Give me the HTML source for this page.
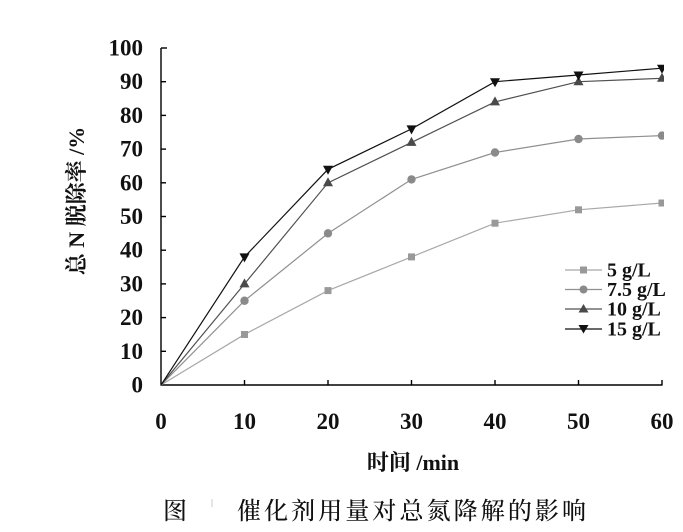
<!DOCTYPE html>
<html><head><meta charset="utf-8"><style>
html,body{margin:0;padding:0;background:#fff;}
svg{display:block;}
</style></head><body>
<svg width="683" height="532" viewBox="0 0 683 532" xmlns="http://www.w3.org/2000/svg">
<rect width="683" height="532" fill="#fff"/>
<defs><clipPath id="c"><rect x="0" y="0" width="664" height="532"/></clipPath></defs>
<!-- axes -->
<g stroke="#000" stroke-width="1.4" fill="none">
<line x1="161" y1="48" x2="161" y2="385.5"/>
<line x1="160.5" y1="385" x2="662.5" y2="385"/>
<line x1="161" y1="48" x2="167" y2="48"/>
<line x1="161" y1="81.7" x2="166" y2="81.7"/>
<line x1="161" y1="115.4" x2="166" y2="115.4"/>
<line x1="161" y1="149.1" x2="166" y2="149.1"/>
<line x1="161" y1="182.8" x2="166" y2="182.8"/>
<line x1="161" y1="216.5" x2="166" y2="216.5"/>
<line x1="161" y1="250.2" x2="166" y2="250.2"/>
<line x1="161" y1="283.9" x2="166" y2="283.9"/>
<line x1="161" y1="317.6" x2="166" y2="317.6"/>
<line x1="161" y1="351.3" x2="166" y2="351.3"/>
<line x1="244.5" y1="385" x2="244.5" y2="380"/>
<line x1="328" y1="385" x2="328" y2="380"/>
<line x1="411.5" y1="385" x2="411.5" y2="380"/>
<line x1="495" y1="385" x2="495" y2="380"/>
<line x1="578.5" y1="385" x2="578.5" y2="380"/>
<line x1="662" y1="385" x2="662" y2="380"/>
</g>
<!-- y tick labels -->
<g font-family="Liberation Serif, serif" font-weight="bold" font-size="23" fill="#111" text-anchor="end">
<text x="143" y="55.5">100</text>
<text x="143" y="89.2">90</text>
<text x="143" y="122.9">80</text>
<text x="143" y="156.6">70</text>
<text x="143" y="190.3">60</text>
<text x="143" y="224">50</text>
<text x="143" y="257.7">40</text>
<text x="143" y="291.4">30</text>
<text x="143" y="325.1">20</text>
<text x="143" y="358.8">10</text>
<text x="143" y="392.5">0</text>
</g>
<!-- x tick labels -->
<g font-family="Liberation Serif, serif" font-weight="bold" font-size="23" fill="#111" text-anchor="middle">
<text x="161" y="429">0</text>
<text x="244.5" y="429">10</text>
<text x="328" y="429">20</text>
<text x="411.5" y="429">30</text>
<text x="495" y="429">40</text>
<text x="578.5" y="429">50</text>
<text x="662" y="429">60</text>
</g>
<!-- axis titles -->
<text x="413" y="470" text-anchor="middle" font-family="Liberation Serif, 'Noto Serif CJK SC', serif" font-weight="bold" font-size="22" fill="#111">时间 /min</text>
<text transform="translate(84,201) rotate(-90)" text-anchor="middle" font-family="Liberation Serif, 'Noto Serif CJK SC', serif" font-weight="bold" font-size="22" fill="#111">总 N 脱除率 /%</text>
<!-- caption -->
<text x="163" y="519" font-family="'Noto Serif CJK SC', serif" font-size="24" font-weight="500" fill="#111">图</text>
<line x1="212" y1="499" x2="212" y2="507" stroke="#ccc" stroke-width="1"/>
<text x="237" y="519" font-family="'Noto Serif CJK SC', serif" font-size="24" font-weight="500" fill="#111" textLength="349" lengthAdjust="spacing">催化剂用量对总氮降解的影响</text>
<!-- series -->
<g clip-path="url(#c)" fill="none" stroke-width="1.2">
<polyline stroke="#a8a8a8" points="161,385 244.5,334.45 328,290.6 411.5,256.9 495,223.2 578.5,209.8 662,203"/>
<polyline stroke="#909090" points="161,385 244.5,300.75 328,233.35 411.5,179.4 495,152.5 578.5,139 662,135.6"/>
<polyline stroke="#505050" points="161,385 244.5,283.9 328,182.8 411.5,142.4 495,101.9 578.5,81.7 662,78.3"/>
<polyline stroke="#111" points="161,385 244.5,256.9 328,169.3 411.5,128.9 495,81.7 578.5,75 662,68.2"/>
</g>
<g clip-path="url(#c)">
<g fill="#999">
<rect x="241" y="331" width="7" height="7"/>
<rect x="324.5" y="287.1" width="7" height="7"/>
<rect x="408" y="253.4" width="7" height="7"/>
<rect x="491.5" y="219.7" width="7" height="7"/>
<rect x="575" y="206.3" width="7" height="7"/>
<rect x="658.5" y="199.5" width="7" height="7"/>
</g>
<g fill="#8a8a8a">
<circle cx="244.5" cy="300.75" r="4.2"/>
<circle cx="328" cy="233.35" r="4.2"/>
<circle cx="411.5" cy="179.4" r="4.2"/>
<circle cx="495" cy="152.5" r="4.2"/>
<circle cx="578.5" cy="139" r="4.2"/>
<circle cx="662" cy="135.6" r="4.2"/>
</g>
<g fill="#4a4a4a">
<polygon points="244.5,278.4 239.5,287.4 249.5,287.4"/>
<polygon points="328,177.3 323,186.3 333,186.3"/>
<polygon points="411.5,136.9 406.5,145.9 416.5,145.9"/>
<polygon points="495,96.4 490,105.4 500,105.4"/>
<polygon points="578.5,76.2 573.5,85.2 583.5,85.2"/>
<polygon points="662,72.8 657,81.8 667,81.8"/>
</g>
<g fill="#111">
<polygon points="239.5,253.4 249.5,253.4 244.5,262.4"/>
<polygon points="323,165.8 333,165.8 328,174.8"/>
<polygon points="406.5,125.4 416.5,125.4 411.5,134.4"/>
<polygon points="490,78.2 500,78.2 495,87.2"/>
<polygon points="573.5,71.5 583.5,71.5 578.5,80.5"/>
<polygon points="657,64.7 667,64.7 662,73.7"/>
</g>
</g>
<!-- legend -->
<g stroke-width="1.2">
<line x1="565" y1="270" x2="602" y2="270" stroke="#a8a8a8"/>
<line x1="565" y1="289.5" x2="602" y2="289.5" stroke="#909090"/>
<line x1="565" y1="309" x2="602" y2="309" stroke="#505050"/>
<line x1="565" y1="329" x2="602" y2="329" stroke="#111"/>
</g>
<rect x="580" y="266.5" width="7" height="7" fill="#999"/>
<circle cx="583.5" cy="289.5" r="4" fill="#8a8a8a"/>
<polygon points="583.5,304 578.5,312.5 588.5,312.5" fill="#4a4a4a"/>
<polygon points="578.5,325 588.5,325 583.5,333.5" fill="#111"/>
<g font-family="Liberation Serif, serif" font-weight="bold" font-size="20" fill="#111">
<text x="607" y="276.5">5 g/L</text>
<text x="607" y="296">7.5 g/L</text>
<text x="607" y="315.5">10 g/L</text>
<text x="607" y="335.5">15 g/L</text>
</g>
</svg>
</body></html>
